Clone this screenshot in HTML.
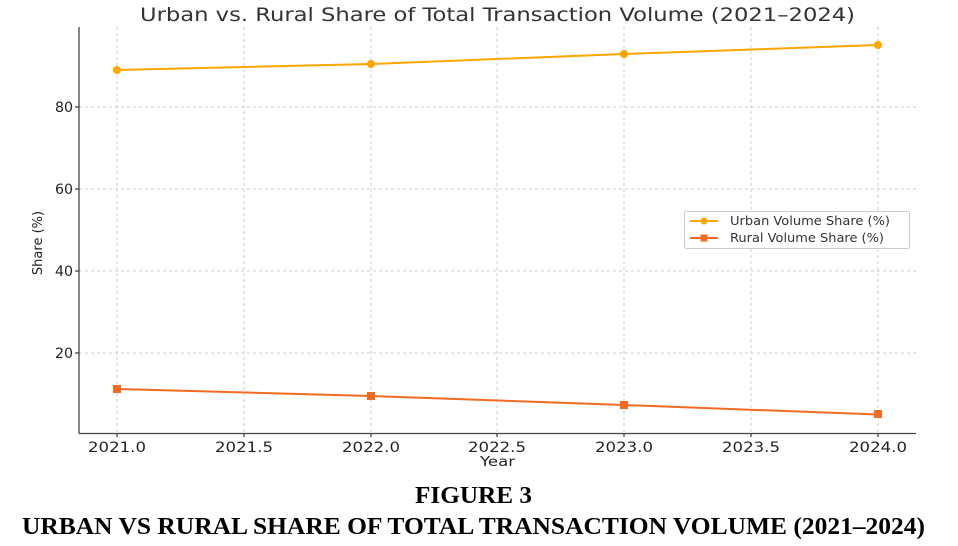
<!DOCTYPE html>
<html><head><style>
body{margin:0;background:#fff;width:958px;height:546px;overflow:hidden}
</style></head><body>
<svg width="958" height="546" style="position:absolute;left:0;top:0" font-family="DejaVu Sans, sans-serif">
<text x="140" y="21" textLength="715" lengthAdjust="spacingAndGlyphs" font-size="19" fill="#333">Urban vs. Rural Share of Total Transaction Volume (2021–2024)</text>
<g stroke="#ccc" stroke-dasharray="3,3" stroke-width="1">
<line x1="117" y1="27" x2="117" y2="433"/><line x1="244" y1="27" x2="244" y2="433"/><line x1="371" y1="27" x2="371" y2="433"/><line x1="497" y1="27" x2="497" y2="433"/><line x1="624" y1="27" x2="624" y2="433"/><line x1="751" y1="27" x2="751" y2="433"/><line x1="878" y1="27" x2="878" y2="433"/>
<line x1="79" y1="107" x2="916" y2="107"/><line x1="79" y1="189" x2="916" y2="189"/><line x1="79" y1="271" x2="916" y2="271"/><line x1="79" y1="353" x2="916" y2="353"/>
</g>
<g stroke="#444" stroke-width="1.3">
<line x1="79" y1="27" x2="79" y2="433.5"/><line x1="79" y1="433.5" x2="916" y2="433.5"/>
<line x1="75" y1="107" x2="79" y2="107"/><line x1="75" y1="189" x2="79" y2="189"/><line x1="75" y1="271" x2="79" y2="271"/><line x1="75" y1="353" x2="79" y2="353"/>
<line x1="117" y1="433" x2="117" y2="437"/><line x1="244" y1="433" x2="244" y2="437"/><line x1="371" y1="433" x2="371" y2="437"/><line x1="497" y1="433" x2="497" y2="437"/><line x1="624" y1="433" x2="624" y2="437"/><line x1="751" y1="433" x2="751" y2="437"/><line x1="878" y1="433" x2="878" y2="437"/>
</g>
<g font-size="14" fill="#222">
<text x="55" y="112" textLength="18" lengthAdjust="spacingAndGlyphs">80</text><text x="55" y="194" textLength="18" lengthAdjust="spacingAndGlyphs">60</text><text x="55" y="276" textLength="18" lengthAdjust="spacingAndGlyphs">40</text><text x="55" y="358" textLength="18" lengthAdjust="spacingAndGlyphs">20</text>
</g>
<g font-size="14" fill="#222">
<text x="88" y="452" textLength="58" lengthAdjust="spacingAndGlyphs">2021.0</text><text x="215" y="452" textLength="58" lengthAdjust="spacingAndGlyphs">2021.5</text><text x="342" y="452" textLength="58" lengthAdjust="spacingAndGlyphs">2022.0</text><text x="468" y="452" textLength="58" lengthAdjust="spacingAndGlyphs">2022.5</text><text x="595" y="452" textLength="58" lengthAdjust="spacingAndGlyphs">2023.0</text><text x="722" y="452" textLength="58" lengthAdjust="spacingAndGlyphs">2023.5</text><text x="849" y="452" textLength="58" lengthAdjust="spacingAndGlyphs">2024.0</text>
<text x="480" y="466" font-size="13" textLength="35" lengthAdjust="spacingAndGlyphs">Year</text>
</g>
<text transform="translate(42,243) rotate(-90)" text-anchor="middle" font-size="13" fill="#222">Share (%)</text>
<polyline points="117,70 371,64 624,54 878,45" fill="none" stroke="#FFA500" stroke-width="2"/>
<g fill="#FFA500"><circle cx="117" cy="70" r="4"/><circle cx="371" cy="64" r="4"/><circle cx="624" cy="54" r="4"/><circle cx="878" cy="45" r="4"/></g>
<polyline points="117,389 371,396 624,405 878,414.5" fill="none" stroke="#F26B21" stroke-width="2"/>
<g fill="#F26B21"><rect x="113" y="385" width="8" height="8"/><rect x="367" y="392" width="8" height="8"/><rect x="620" y="401" width="8" height="8"/><rect x="874" y="410" width="8" height="8"/></g>
<rect x="684.5" y="211.5" width="225" height="37" rx="2" fill="#fff" stroke="#ccc"/>
<line x1="690" y1="221" x2="718" y2="221" stroke="#FFA500" stroke-width="2"/><circle cx="704" cy="221" r="3.5" fill="#FFA500"/>
<line x1="690" y1="238" x2="718" y2="238" stroke="#F26B21" stroke-width="2"/><rect x="700.5" y="234.5" width="7" height="7" fill="#F26B21"/>
<g font-size="12" fill="#333"><text x="730" y="225" textLength="160" lengthAdjust="spacingAndGlyphs">Urban Volume Share (%)</text><text x="730" y="242" textLength="154" lengthAdjust="spacingAndGlyphs">Rural Volume Share (%)</text></g>
<g font-family="Liberation Serif, serif" font-weight="bold" font-size="24" fill="#000">
<text x="415" y="503" textLength="117" lengthAdjust="spacingAndGlyphs">FIGURE 3</text>
<text x="22" y="534" textLength="903" lengthAdjust="spacingAndGlyphs">URBAN VS RURAL SHARE OF TOTAL TRANSACTION VOLUME (2021–2024)</text>
</g>
</svg>
</body></html>
